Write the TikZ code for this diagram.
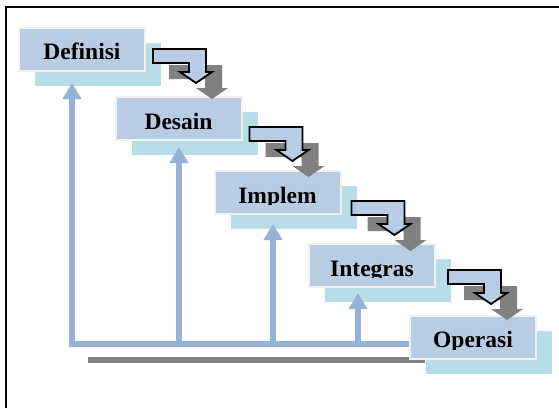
\documentclass[tikz,border=0pt]{standalone}
\usepackage{fontspec}
\setmainfont{Liberation Serif}
\usetikzlibrary{arrows.meta,calc,shadows}

\definecolor{boxblue}{HTML}{B8CCE4}
\definecolor{boxedge}{HTML}{F2F2F2}
\definecolor{shade}{HTML}{B7DDE8}
\definecolor{linkblue}{HTML}{95B3D7}
\definecolor{shadowgray}{HTML}{808080}

\tikzset{
  phase/.style={rectangle, fill=boxblue, draw=boxedge, line width=2pt,
    minimum width=126pt, minimum height=43pt, inner sep=0pt,
    general shadow={fill=shade, shadow xshift=16pt, shadow yshift=-15pt}},
  phasetext/.style={font=\bfseries\fontsize{23.5}{28}\selectfont, inner sep=0pt},
  feedback/.style={draw=linkblue, line width=6pt,
    -{Triangle[width=18pt,length=16pt]}},
  bentarrow/.pic={
    % gray shadow first, then the outlined arrow
    \fill[shadowgray, shift={(16,16)}] (0,0) -- (53,0) -- (53,23) -- (59,23)
      -- (43,34) -- (27,23) -- (36,23) -- (36,14) -- (0,14) -- cycle;
    \draw[fill=boxblue, line width=1.8pt] (0,0) -- (53,0) -- (53,23) -- (59,23)
      -- (43,34) -- (27,23) -- (36,23) -- (36,14) -- (0,14) -- cycle;
  }
}

\begin{document}
\begin{tikzpicture}[x=1pt, y=-1pt]
    \useasboundingbox (0,0) rectangle (559,408);
    % Frame
    \draw[line width=2pt] (5.5,408) |- (559,6.5);
    % Shadow of the base line
    \coordinate (g1) at (88,360);
    \coordinate (g2) at (425,360);
    \draw[shadowgray, line width=6pt] (g1) -- (g2);
    % Phases
    \node[phase] (def) at (82,49) {};
    \node[phase] (des) at (178.5,118.5) {};
    \node[phase] (imp) at (277.5,192.5) {};
    \node[phase] (int) at (372,265.5) {};
    \node[phase] (ops) at (473,337) {};
    % Labels (cut just below the base line)
    \foreach \n/\t in {def/Definisi, des/Desain, imp/Implem, int/Integras, ops/Operasi} {
      \begin{scope}
        \clip (\n.north west) rectangle ($(\n.north east)+(0,34.5)$);
        \node[phasetext, anchor=base] (\n-t) at ($(\n.north)+(0,33)$) {\t};
      \end{scope}
    }
    % Steps down
    \pic at ($(def.east)+(7,0)$) {bentarrow};
    \pic at ($(des.east)+(7,8.5)$) {bentarrow};
    \pic at ($(imp.east)+(10,8.5)$) {bentarrow};
    \pic at ($(int.east)+(12,4.5)$) {bentarrow};
    % Feedback
    \coordinate (b1) at (409,343.5);
    \coordinate (b2) at (179,343.5);
    \coordinate (b3) at (273,343.5);
    \coordinate (b4) at (358,343.5);
    \coordinate (t1) at (72,83);
    \coordinate (t2) at (179,147);
    \coordinate (t3) at (273,224);
    \coordinate (t4) at (358,293);
    \draw[feedback] (b1) -| (t1);
    \draw[feedback] (b2) -- (t2);
    \draw[feedback] (b3) -- (t3);
    \draw[feedback] (b4) -- (t4);
\end{tikzpicture}
\end{document}
